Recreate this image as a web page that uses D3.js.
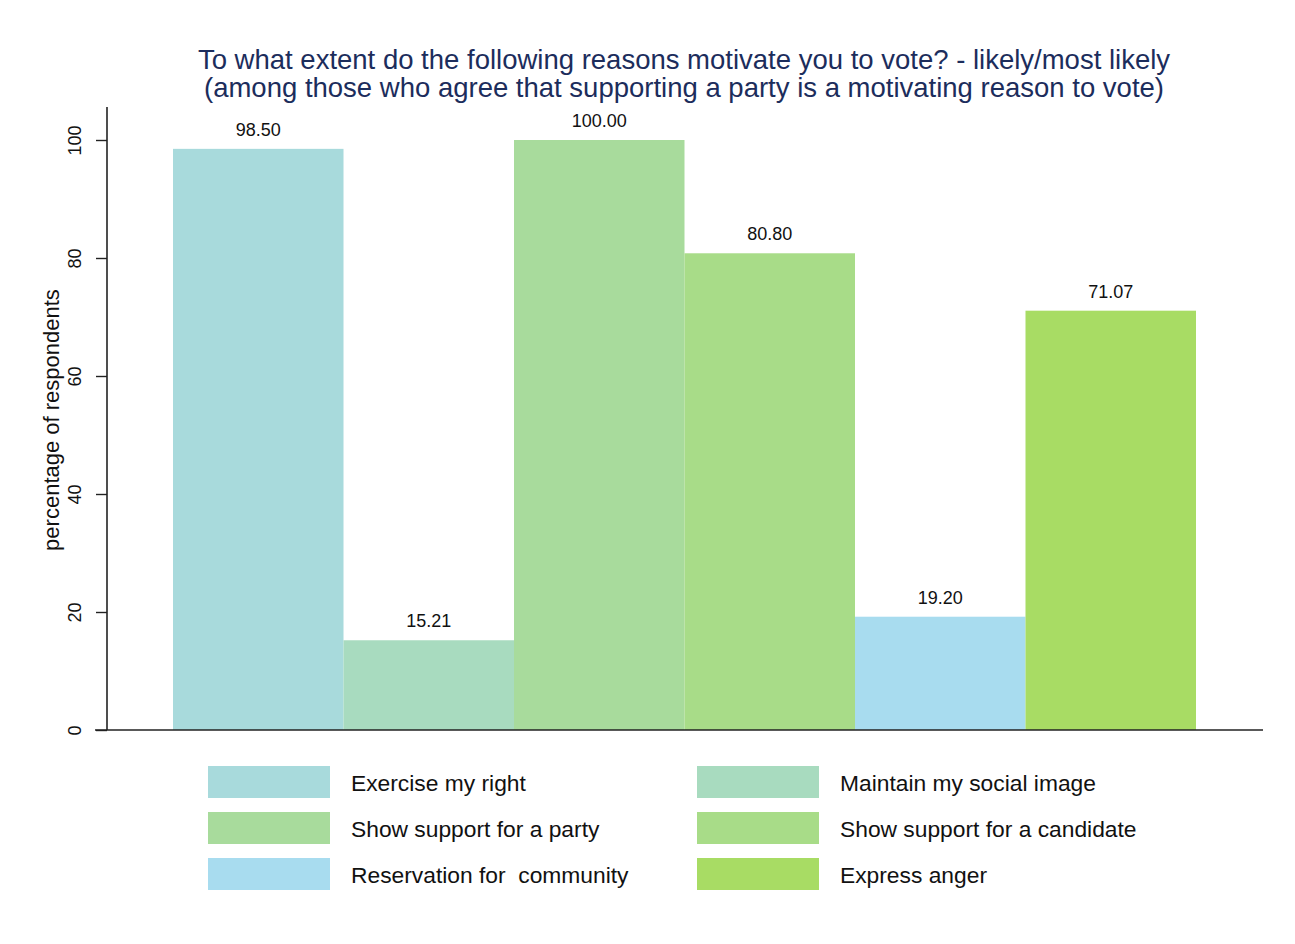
<!DOCTYPE html>
<html>
<head>
<meta charset="utf-8">
<script src="https://cdn.jsdelivr.net/npm/d3@7"></script>
<style>
  html, body { margin: 0; padding: 0; background: #fff; }
  svg text { font-family: "Liberation Sans", Arial, Helvetica, sans-serif; }
</style>
</head>
<body>
<svg id="chart" width="1295" height="944"></svg>
<script>
// Reasons, their shares and fill colours
const categories = [
  "Exercise my right",
  "Maintain my social image",
  "Show support for a party",
  "Show support for a candidate",
  "Reservation for  community",
  "Express anger"
];
const values = [98.50, 15.21, 100.00, 80.80, 19.20, 71.07];
const colors = ["#a8dadc", "#a8dbbf", "#a8db9c", "#a8dc88", "#a8dcef", "#a8dc64"];
const yTicks = [0, 20, 40, 60, 80, 100];
const titleLines = [
  "To what extent do the following reasons motivate you to vote? - likely/most likely",
  "(among those who agree that supporting a party is a motivating reason to vote)"
];
const yTitle = "percentage of respondents";

const svg = d3.select("#chart");

// Plot geometry
const plot = { left: 107, right: 1263, top: 107, bottom: 730 };

const x = d3.scaleBand()
  .domain(categories)
  .range([173, 1196])
  .padding(0);

const y = d3.scaleLinear()
  .domain([0, 100])
  .range([plot.bottom, 140]);

// Title
svg.append("g")
  .selectAll("text")
  .data(titleLines)
  .join("text")
  .attr("x", 684)
  .attr("y", (d, i) => 69 + i * 28)
  .attr("text-anchor", "middle")
  .attr("font-size", 27.5)
  .attr("fill", "#1c2d5c")
  .text(d => d);

// Bars
svg.append("g")
  .selectAll("rect")
  .data(values)
  .join("rect")
  .attr("x", (d, i) => x(categories[i]))
  .attr("y", d => y(d))
  .attr("width", x.bandwidth())
  .attr("height", d => y(0) - y(d))
  .attr("fill", (d, i) => colors[i]);

// Value labels
svg.append("g")
  .selectAll("text")
  .data(values)
  .join("text")
  .attr("x", (d, i) => x(categories[i]) + x.bandwidth() / 2)
  .attr("y", d => y(d) - 13)
  .attr("text-anchor", "middle")
  .attr("font-size", 18)
  .attr("fill", "#111")
  .text(d => d.toFixed(2));

// Y axis
const yAxis = d3.axisLeft(y)
  .tickValues(yTicks)
  .tickSize(11)
  .tickPadding(10)
  .tickFormat(d3.format("d"));

const gy = svg.append("g")
  .attr("transform", `translate(${plot.left},0)`)
  .call(yAxis);
gy.select(".domain")
  .attr("d", `M0,${plot.top}V${plot.bottom}`)
  .attr("stroke", "#222")
  .attr("stroke-width", 1.6);
gy.selectAll(".tick line").attr("stroke", "#222").attr("stroke-width", 1.4);
gy.selectAll(".tick text")
  .attr("font-size", 18)
  .attr("fill", "#111")
  .attr("font-family", "Liberation Sans, Arial, sans-serif")
  .attr("x", -32)
  .attr("y", 0)
  .attr("dy", "0.35em")
  .attr("text-anchor", "middle")
  .attr("transform", "rotate(-90,-32,0)");

// X axis baseline
svg.append("line")
  .attr("x1", 95)
  .attr("x2", plot.right)
  .attr("y1", y(0))
  .attr("y2", y(0))
  .attr("stroke", "#222")
  .attr("stroke-width", 1.6);

// Y axis title
svg.append("text")
  .attr("transform", `translate(59,420) rotate(-90)`)
  .attr("text-anchor", "middle")
  .attr("font-size", 22)
  .attr("fill", "#111")
  .text(yTitle);

// Legend: two columns, three rows
const legend = svg.append("g");
const items = legend.selectAll("g")
  .data(categories)
  .join("g")
  .attr("transform", (d, i) => `translate(${i % 2 === 0 ? 208 : 697},${766 + Math.floor(i / 2) * 46})`);
items.append("rect")
  .attr("width", 122)
  .attr("height", 32)
  .attr("fill", (d, i) => colors[i]);
items.append("text")
  .attr("x", 143)
  .attr("y", 17)
  .attr("dy", "0.35em")
  .attr("font-size", 22.8)
  .attr("fill", "#111")
  .style("white-space", "pre")
  .text(d => d);
</script>
</body>
</html>
